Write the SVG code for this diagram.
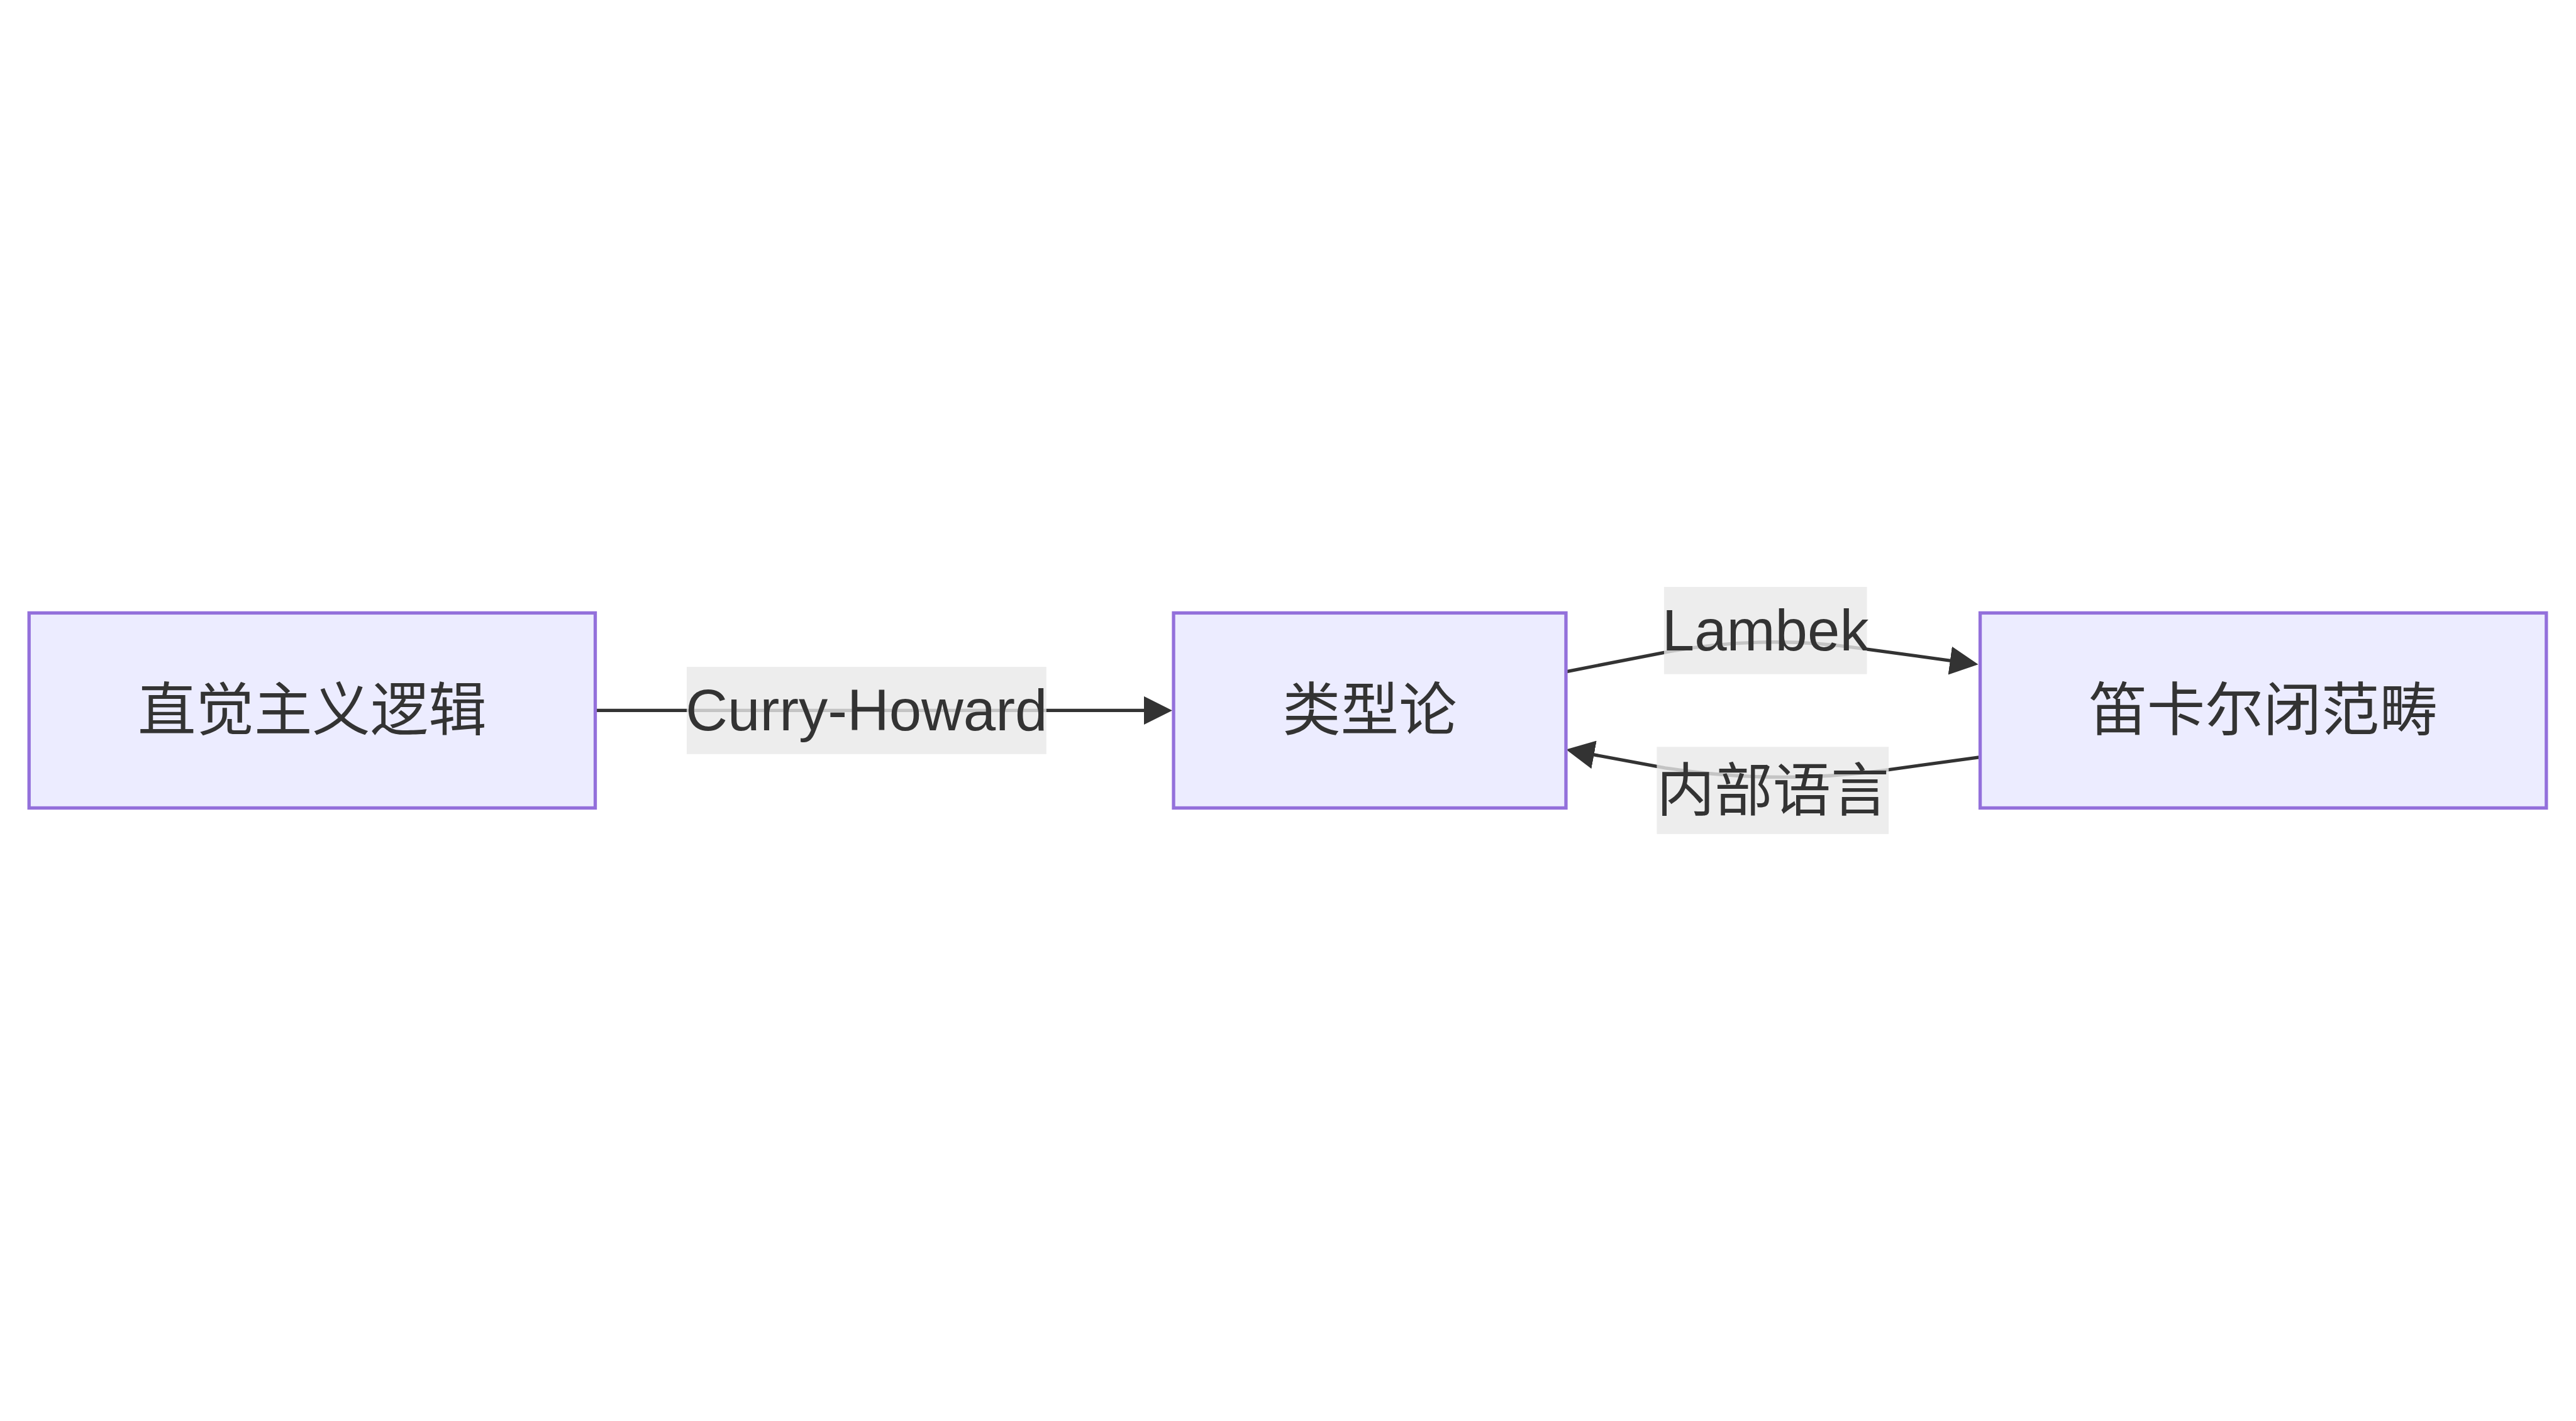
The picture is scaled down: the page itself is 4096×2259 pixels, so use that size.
<svg xmlns="http://www.w3.org/2000/svg" width="4096" height="2259" viewBox="0 0 4096 2259">
<style>
.node rect{fill:#ECECFF;stroke:#9370DB;stroke-width:5.5}
.node text,.elabel text{font-family:"Liberation Sans","Noto Sans CJK SC",sans-serif;font-size:96px;fill:#333333;text-anchor:middle;dominant-baseline:central}
.edge{fill:none;stroke:#333333;stroke-width:5.5}
.elabel rect{fill:rgba(232,232,232,0.8)}
</style>
<defs>
<marker id="arrow" viewBox="0 0 10 10" refX="8.3" refY="5" markerWidth="47" markerHeight="47" markerUnits="userSpaceOnUse" orient="auto">
<path d="M0,0 L10,5 L0,10 z" fill="#333333"/>
</marker>
</defs>
<rect x="0" y="0" width="4096" height="2259" fill="#ffffff"/>
<g transform="scale(0.96286)">
<g id="connectors">
<path class="edge" d="M983,1173 L1928,1173" marker-end="url(#arrow)"/>
<path class="edge" d="M2586,1109 L2760,1075 Q2915,1048 3070,1070 L3259,1096" marker-end="url(#arrow)"/>
<path class="edge" d="M3270,1250 L3110,1272 Q2930,1296 2750,1268 L2594,1239" marker-end="url(#arrow)"/>
</g>
<g id="edge-labels">
<g class="elabel" id="label-curry-howard"><rect x="1134" y="1101" width="594" height="144"/><text x="1431" y="1173">Curry-Howard</text></g>
<g class="elabel" id="label-lambek"><rect x="2748" y="969" width="335" height="144"/><text x="2915.5" y="1041">Lambek</text></g>
<g class="elabel" id="label-internal"><rect x="2736" y="1233" width="383" height="144"/><text x="2927.5" y="1305">内部语言</text></g>
</g>
<g class="node" id="node-intuitionistic"><rect x="48" y="1012" width="935" height="322"/><text x="515.5" y="1173">直觉主义逻辑</text></g>
<g class="node" id="node-typetheory"><rect x="1938" y="1012" width="648" height="322"/><text x="2262" y="1173">类型论</text></g>
<g class="node" id="node-ccc"><rect x="3270" y="1012" width="935" height="322"/><text x="3737.5" y="1173">笛卡尔闭范畴</text></g>
</g>
</svg>
